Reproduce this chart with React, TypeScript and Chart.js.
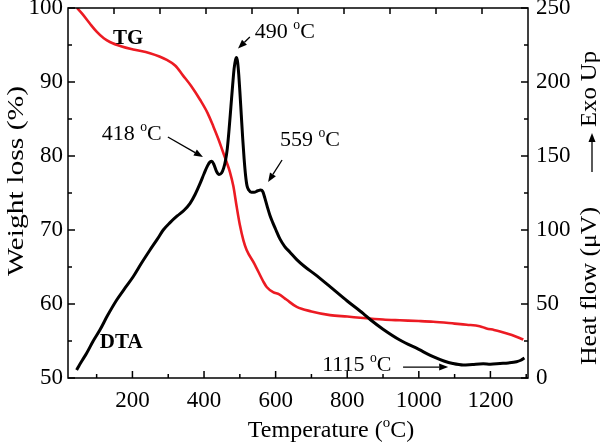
import { useEffect, useRef } from "react";
import { Chart, registerables } from "chart.js";

Chart.register(...registerables);

// ---- data ----
const tgTemp = [45, 60, 81, 100, 120, 137, 170, 202, 249, 296, 320, 341, 365, 389, 410, 426, 440, 454, 463, 472, 482, 491, 500, 510, 519, 540, 566, 575, 593, 610, 630, 659, 700, 752, 800, 845, 900, 947, 1000, 1040, 1100, 1134, 1170, 1189, 1210, 1227, 1260, 1292];
const tgWeight = [100, 99.2, 97.9, 96.8, 95.9, 95.4, 94.8, 94.4, 93.9, 93.0, 92.2, 90.9, 89.4, 87.6, 85.8, 84.0, 82.3, 80.4, 79.2, 77.9, 75.9, 73.2, 70.7, 68.6, 67.3, 65.5, 63.0, 62.3, 61.6, 61.3, 60.6, 59.6, 59.0, 58.5, 58.3, 58.1, 57.9, 57.8, 57.7, 57.6, 57.35, 57.2, 57.0, 56.7, 56.5, 56.3, 55.8, 55.2];

const dtaTemp = [44, 50, 60, 72, 90, 109, 130, 156, 180, 202, 225, 249, 270, 286, 305, 325, 345, 361, 375, 389, 400, 410, 417, 422, 428, 435, 442, 449, 455, 460, 465, 470, 475, 480, 484, 488, 491, 494, 497, 500, 504, 508, 512, 516, 520, 525, 532, 540, 550, 558, 564, 570, 577, 584, 592, 600, 612, 625, 640, 659, 680, 710, 752, 800, 845, 864, 900, 947, 1000, 1040, 1070, 1095, 1124, 1150, 1180, 1200, 1227, 1250, 1273, 1285, 1295];
const dtaHeat = [5.4, 8, 12, 16.7, 24.8, 32.4, 42, 52.7, 61, 68.4, 77.5, 86.5, 94, 100, 105, 109.5, 113.5, 118, 124, 131.5, 138, 143.5, 146, 146.5, 144, 139.5, 137.5, 138.5, 142, 147, 155, 168, 183, 198, 209, 215, 216.5, 213, 205, 194, 178, 162, 148, 137, 130, 127, 125.5, 125.5, 126.5, 127, 126, 121.5, 115.5, 110, 105, 100.5, 94, 89, 85, 80, 75.5, 70, 61.7, 52, 43.5, 39.5, 33, 25.7, 19.3, 14.4, 11.5, 9.8, 8.8, 9.2, 9.6, 9.3, 9.8, 10.2, 11, 12, 13.5];

const xMajorTicks = [200, 400, 600, 800, 1000, 1200];
const xMinorTicks = [100, 300, 500, 700, 900, 1100, 1300];
const leftMajorTicks = [50, 60, 70, 80, 90, 100];
const leftMinorTicks = [55, 65, 75, 85, 95];
const rightMajorTicks = [0, 50, 100, 150, 200, 250];
const rightMinorTicks = [25, 75, 125, 175, 225];
const topDivisions = 10;

// annotation texts (positions in data coordinates: temperature, heat flow)
const peakLabels = ["418", "490", "559", "1115"];
const peakLabelTemp = [114, 542, 612, 730];
const peakLabelHeat = [160.8, 229.7, 156.8, 4.7];
const arrowFromTemp = [299, 528, 618, 956];
const arrowFromHeat = [162.8, 230.4, 147.3, 7.4];
const arrowToTemp = [397, 495, 579, 1082];
const arrowToHeat = [149.3, 222.6, 132.4, 7.4];
const curveLabels = ["TG", "DTA"];
const curveLabelTemp = [146, 109];
const curveLabelHeat = [225.7, 20.3];

const FONT = "'Liberation Serif', 'Times New Roman', serif";
const RED = "#ec1b23";

type Part = { t: string; sup?: boolean };

function partsWidth(ctx: CanvasRenderingContext2D, parts: Part[], size: number, bold: boolean) {
  let w = 0;
  for (const p of parts) {
    const s = p.sup ? size * 0.62 : size;
    ctx.font = `${bold ? "bold " : ""}${s}px ${FONT}`;
    w += ctx.measureText(p.t).width;
  }
  return w;
}

function drawParts(ctx: CanvasRenderingContext2D, parts: Part[], x: number, y: number, size: number, bold = false, align: "left" | "center" = "left") {
  const w = partsWidth(ctx, parts, size, bold);
  let cx = align === "center" ? x - w / 2 : x;
  ctx.textAlign = "left";
  ctx.textBaseline = "alphabetic";
  for (const p of parts) {
    const s = p.sup ? size * 0.62 : size;
    ctx.font = `${bold ? "bold " : ""}${s}px ${FONT}`;
    ctx.fillText(p.t, cx, y - (p.sup ? size * 0.42 : 0));
    cx += ctx.measureText(p.t).width;
  }
}

function drawRotated(ctx: CanvasRenderingContext2D, parts: Part[], cx: number, cy: number, size: number, targetLen: number) {
  const w = partsWidth(ctx, parts, size, false);
  const k = targetLen / w;
  ctx.save();
  ctx.translate(cx, cy);
  ctx.rotate(-Math.PI / 2);
  ctx.scale(k, 1);
  drawParts(ctx, parts, 0, size * 0.33, size, false, "center");
  ctx.restore();
}

function arrow(ctx: CanvasRenderingContext2D, x1: number, y1: number, x2: number, y2: number, head = 9, width = 3.5) {
  const ang = Math.atan2(y2 - y1, x2 - x1);
  const bx = x2 - head * Math.cos(ang);
  const by = y2 - head * Math.sin(ang);
  ctx.beginPath();
  ctx.moveTo(x1, y1);
  ctx.lineTo(bx, by);
  ctx.stroke();
  ctx.beginPath();
  ctx.moveTo(x2, y2);
  ctx.lineTo(bx + width * Math.sin(ang), by - width * Math.cos(ang));
  ctx.lineTo(bx - width * Math.sin(ang), by + width * Math.cos(ang));
  ctx.closePath();
  ctx.fill();
}

const framePlugin = {
  id: "frame",
  afterDatasetsDraw(chart: any) {
    const { ctx, chartArea: a, scales } = chart;
    const sx = scales.x, sy = scales.y, sy2 = scales.y2;
    ctx.save();
    ctx.strokeStyle = "#000";
    ctx.fillStyle = "#000";
    ctx.lineWidth = 1.5;
    ctx.strokeRect(a.left, a.top, a.right - a.left, a.bottom - a.top);
    ctx.beginPath();
    for (const v of xMajorTicks) { const p = sx.getPixelForValue(v); ctx.moveTo(p, a.bottom); ctx.lineTo(p, a.bottom - 7); }
    for (const v of xMinorTicks) { const p = sx.getPixelForValue(v); ctx.moveTo(p, a.bottom); ctx.lineTo(p, a.bottom - 4); }
    for (let i = 1; i < topDivisions; i++) { const p = a.left + ((a.right - a.left) * i) / topDivisions; ctx.moveTo(p, a.top); ctx.lineTo(p, a.top + 6); }
    for (const v of leftMajorTicks) { const p = sy.getPixelForValue(v); ctx.moveTo(a.left, p); ctx.lineTo(a.left + 7, p); }
    for (const v of leftMinorTicks) { const p = sy.getPixelForValue(v); ctx.moveTo(a.left, p); ctx.lineTo(a.left + 4, p); }
    for (const v of rightMajorTicks) { const p = sy2.getPixelForValue(v); ctx.moveTo(a.right, p); ctx.lineTo(a.right - 7, p); }
    for (const v of rightMinorTicks) { const p = sy2.getPixelForValue(v); ctx.moveTo(a.right, p); ctx.lineTo(a.right - 4, p); }
    ctx.stroke();

    // annotations
    ctx.lineWidth = 1.3;
    for (let i = 0; i < peakLabels.length; i++) {
      drawParts(ctx, [{ t: peakLabels[i] + " " }, { t: "o", sup: true }, { t: "C" }], sx.getPixelForValue(peakLabelTemp[i]), sy2.getPixelForValue(peakLabelHeat[i]), 22);
      arrow(ctx, sx.getPixelForValue(arrowFromTemp[i]), sy2.getPixelForValue(arrowFromHeat[i]), sx.getPixelForValue(arrowToTemp[i]), sy2.getPixelForValue(arrowToHeat[i]));
    }
    for (let i = 0; i < curveLabels.length; i++) {
      drawParts(ctx, [{ t: curveLabels[i] }], sx.getPixelForValue(curveLabelTemp[i]), sy2.getPixelForValue(curveLabelHeat[i]), 21, true);
    }

    // axis titles
    drawParts(ctx, [{ t: "Temperature (" }, { t: "o", sup: true }, { t: "C)" }], 331, 437, 24, false, "center");
    drawRotated(ctx, [{ t: "Weight loss (%)" }], 15, 181, 24, 190);
    drawRotated(ctx, [{ t: "Heat flow (\u03bcV)" }], 588, 286, 24, 158);
    drawRotated(ctx, [{ t: "Exo Up" }], 588, 89, 24, 76);
    ctx.lineWidth = 1.3;
    arrow(ctx, 592, 172, 592, 133, 9, 3.5);
    ctx.restore();
  },
};

const zeroPad = (s: any) => {
  s.paddingTop = 0;
  s.paddingBottom = 0;
  s.paddingLeft = 0;
  s.paddingRight = 0;
};

export default function App() {
  const ref = useRef<HTMLCanvasElement | null>(null);
  useEffect(() => {
    document.body.style.margin = "0";
    const canvas = ref.current!;
    const tickFont = { family: FONT, size: 23 };
    const plain = (v: any) => String(v);
    const noGrid = { display: false, drawTicks: false };
    const chart = new Chart(canvas, {
      type: "line",
      data: {
        datasets: [
          {
            label: "DTA",
            data: dtaTemp.map((t, i) => ({ x: t, y: dtaHeat[i] })),
            yAxisID: "y2",
            borderColor: "#000",
            borderWidth: 3,
            pointRadius: 0,
            cubicInterpolationMode: "monotone",
            order: 0,
          },
          {
            label: "TG",
            data: tgTemp.map((t, i) => ({ x: t, y: tgWeight[i] })),
            yAxisID: "y",
            borderColor: RED,
            borderWidth: 2.6,
            pointRadius: 0,
            cubicInterpolationMode: "monotone",
            order: 1,
          },
        ],
      },
      options: {
        animation: false,
        responsive: false,
        maintainAspectRatio: false,
        devicePixelRatio: 1,
        layout: { padding: { top: 8, left: 0, right: 0, bottom: 0 } },
        plugins: { legend: { display: false }, tooltip: { enabled: false } },
        scales: {
          x: {
            type: "linear",
            position: "bottom",
            min: 20,
            max: 1305,
            grid: noGrid,
            border: { display: false },
            afterBuildTicks: (s: any) => { s.ticks = xMajorTicks.map((v) => ({ value: v })); },
            afterFit: (s: any) => { s.height = 66; zeroPad(s); },
            ticks: { font: tickFont, color: "#000", padding: 9, maxRotation: 0, autoSkip: false, callback: plain },
          },
          y: {
            type: "linear",
            position: "left",
            min: 50,
            max: 100,
            grid: noGrid,
            border: { display: false },
            afterBuildTicks: (s: any) => { s.ticks = leftMajorTicks.map((v) => ({ value: v })); },
            afterFit: (s: any) => { s.width = 68; zeroPad(s); },
            ticks: { font: tickFont, color: "#000", padding: 5, autoSkip: false, callback: plain },
          },
          y2: {
            type: "linear",
            position: "right",
            min: 0,
            max: 250,
            grid: noGrid,
            border: { display: false },
            afterBuildTicks: (s: any) => { s.ticks = rightMajorTicks.map((v) => ({ value: v })); },
            afterFit: (s: any) => { s.width = 72; zeroPad(s); },
            ticks: { font: tickFont, color: "#000", padding: 8, autoSkip: false, callback: plain },
          },
        },
      },
      plugins: [framePlugin],
    } as any);
    return () => chart.destroy();
  }, []);
  return <canvas ref={ref} width={600} height={444} style={{ display: "block" }} />;
}
